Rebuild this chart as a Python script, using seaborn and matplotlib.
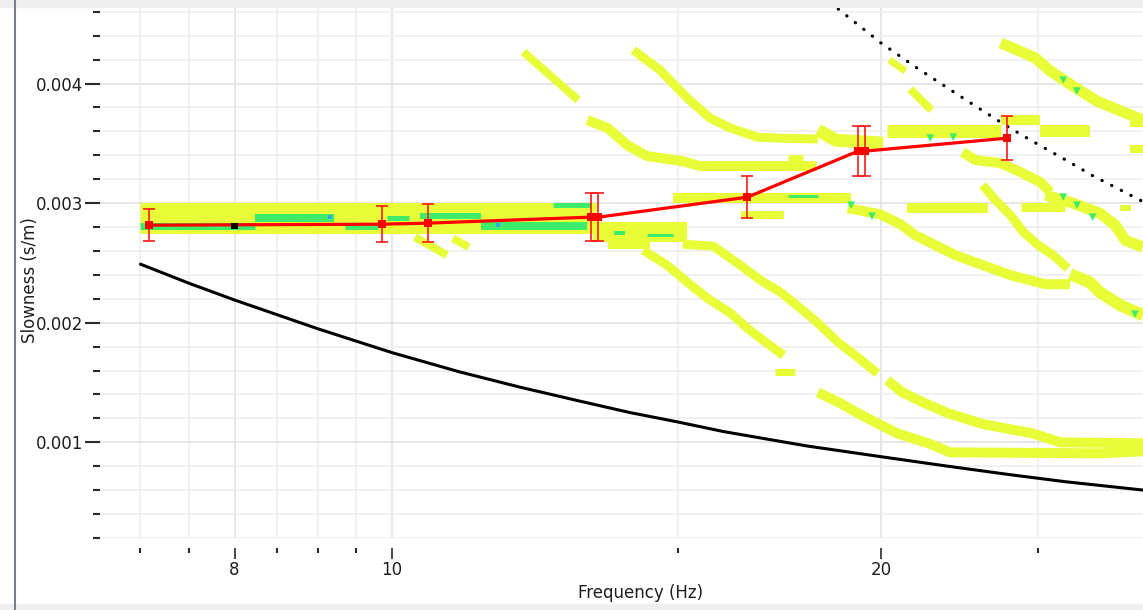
import matplotlib
matplotlib.use("Agg")
import matplotlib.pyplot as plt
import seaborn as sns
from matplotlib.ticker import FixedLocator, FixedFormatter, NullFormatter
from matplotlib.lines import Line2D
from matplotlib.patches import Rectangle

# ------------------------------------------------------------------ data
# picked dispersion curve (frequency Hz, slowness s/m, error)
curve_freq = [7.09, 9.86, 10.52, 13.25, 13.40, 16.55, 19.36, 19.55, 23.93]
curve_slow = [0.002816, 0.002824, 0.002833, 0.002883, 0.002883, 0.00305, 0.003435, 0.003435, 0.003544]
curve_err = [0.000134, 0.00015, 0.00016, 0.0002, 0.0002, 0.000176, 0.00021, 0.00021, 0.000184]

black_pt_freq = [8.0]
black_pt_slow = [0.002808]

# limit curves
limit_low_freq = [7.0, 7.5, 8, 9, 10, 11, 12, 13, 14, 15, 16, 18, 20, 22, 24, 26, 29.5]
limit_low_slow = [0.00249, 0.00233, 0.00219, 0.00195, 0.00175, 0.00159, 0.00146, 0.00135,
                  0.00125, 0.00117, 0.00109, 0.00097, 0.00088, 0.00080, 0.00073, 0.00067, 0.00059]
limit_high_freq = [18.6, 20, 21, 22, 23, 24, 25, 26, 27, 28, 29.5]
limit_high_slow = [0.00468, 0.00434, 0.00414, 0.00396, 0.00379, 0.00363, 0.00349, 0.00336,
                   0.00323, 0.00312, 0.00296]

# yellow energy bands of the dispersion image (ridge nodes)
bandA_f = [7.0, 13.35];   bandA_s = [0.00288, 0.00288]
bandA2_f = [14.9, 19.17]; bandA2_s = [0.003042, 0.003042]
bandA3_f = [13.3, 15.2];  bandA3_s = [0.002757, 0.002757]
bandA3b_f = [13.58, 14.42]; bandA3b_s = [0.002665, 0.002665]
frag1_f = [10.33, 10.81]; frag1_s = [0.002716, 0.002565]
frag2_f = [10.9, 11.15];  frag2_s = [0.002707, 0.002632]
bandB1_f = [12.05, 13.02]; bandB1_s = [0.004264, 0.003862]
bandB2_f = [13.19, 13.58, 13.96, 14.36, 15.1, 15.48, 18.26]
bandB2_s = [0.003695, 0.003628, 0.003485, 0.003393, 0.003351, 0.00331, 0.00331]
bandB3_f = [14.08, 14.62, 15.2, 15.7, 16.16, 16.79, 17.35, 18.29]
bandB3_s = [0.00428, 0.004113, 0.003879, 0.003711, 0.003628, 0.003552, 0.003544, 0.003536]
blob1_f = [17.52, 17.9]; blob1_s = [0.003377, 0.003377]
bandC1_f = [18.29, 18.76, 20.06]; bandC1_s = [0.003611, 0.003527, 0.003502]
bandC2_f = [20.18, 23.7]; bandC2_s = [0.003603, 0.003603]
bandC3_f = [23.7, 25.07]; bandC3_s = [0.003695, 0.003695]
bandC4_f = [25.07, 26.89]; bandC4_s = [0.003603, 0.003603]
bandC5_f = [28.48, 29.0]; bandC5_s = [0.003678, 0.003678]
bandC6_f = [28.48, 29.0]; bandC6_s = [0.003452, 0.003452]
bandE_f = [23.7, 24.28, 24.9, 25.43, 26.26, 27.16, 28.2, 29.0]
bandE_s = [0.004339, 0.00428, 0.004213, 0.004105, 0.003979, 0.003854, 0.003762, 0.003695]
bandF1_f = [20.24, 20.71]; bandF1_s = [0.004197, 0.004105]
bandF2_f = [20.85, 21.48]; bandF2_s = [0.003954, 0.003778]
bandG1_f = [16.39, 17.42]; bandG1_s = [0.0029, 0.0029]
bandG3_f = [19.08, 19.97, 20.56, 21.0, 21.6, 22.23, 23.2, 24.03, 25.25, 26.15]
bandG3_s = [0.002958, 0.002908, 0.002824, 0.002732, 0.002649, 0.002565, 0.002473, 0.002398,
            0.002322, 0.002322]
bandG4_f = [20.76, 23.27]; bandG4_s = [0.002962, 0.002962]
bandG5_f = [23.1, 23.53, 24.03, 24.48, 25.0, 25.53, 26.07]
bandG5_s = [0.003151, 0.003025, 0.0029, 0.002757, 0.002649, 0.002565, 0.002456]
bandG6_f = [24.38, 25.98]; bandG6_s = [0.002967, 0.002967]
bandG7_f = [25.25, 26.26, 27.28, 27.88, 28.28, 29.0]
bandG7_s = [0.003067, 0.003, 0.002916, 0.002816, 0.00269, 0.002632]
bandG8_f = [26.15, 26.89, 27.28, 28.08, 29.0]
bandG8_s = [0.002406, 0.002339, 0.002255, 0.002146, 0.002063]
bandG9_f = [28.08, 28.5]; bandG9_s = [0.002958, 0.002958]
bandH_f = [22.45, 22.87, 23.7, 24.38, 25.07, 25.43]
bandH_s = [0.003427, 0.00336, 0.003335, 0.003259, 0.003176, 0.003092]
bandD0a_f = [14.28, 14.77, 15.2, 15.64, 16.16, 16.55, 17.02, 17.42]
bandD0a_s = [0.002607, 0.002481, 0.002339, 0.002205, 0.00208, 0.001954, 0.001828, 0.001728]
blob2_f = [17.22, 17.7]; blob2_s = [0.00159, 0.00159]
bandD0b_f = [18.29, 18.89, 19.36, 19.9, 20.47, 21.39, 22.06, 27.28, 29.0]
bandD0b_s = [0.001418, 0.001326, 0.001243, 0.001159, 0.001075, 0.000992, 0.000916, 0.000908, 0.000925]
bandD1a_f = [15.1, 15.77, 16.32, 16.86, 17.35, 17.78, 18.24, 18.82, 19.25, 19.66, 19.9]
bandD1a_s = [0.002657, 0.00264, 0.002498, 0.002356, 0.002255, 0.002138, 0.002013, 0.001837,
             0.001736, 0.001636, 0.001577]
bandD1b_f = [20.18, 20.62, 21.22, 22.0, 23.13, 24.8, 25.78, 29.0]
bandD1b_s = [0.001519, 0.001418, 0.001335, 0.001243, 0.001151, 0.001075, 0.001, 0.000992]

# green (higher energy) segments
greenA1_f = [7.0, 8.24];   greenA1_s = [0.002812, 0.002812]
greenA2_f = [8.24, 9.21];  greenA2_s = [0.002874, 0.002874]
greenA3_f = [9.36, 9.80];  greenA3_s = [0.0028, 0.0028]
greenA4_f = [9.93, 10.25]; greenA4_s = [0.002874, 0.002874]
greenA5_f = [10.40, 11.34]; greenA5_s = [0.002891, 0.002891]
greenA6_f = [11.34, 13.19]; greenA6_s = [0.002808, 0.002808]
greenA7_f = [12.57, 13.25]; greenA7_s = [0.002983, 0.002983]
greenA8_f = [13.69, 13.92]; greenA8_s = [0.002749, 0.002749]
greenA9_f = [14.36, 14.9];  greenA9_s = [0.002732, 0.002732]
greenA10_f = [17.52, 18.29]; greenA10_s = [0.003059, 0.003059]
green_spot_f = [19.17, 19.75, 21.45, 22.16, 25.9, 26.4, 25.9, 26.41, 27.0, 28.67]
green_spot_s = [0.002983, 0.002891, 0.003544, 0.003552, 0.004029, 0.003937, 0.00305, 0.002983,
                0.002883, 0.002071]
blue_spot_f = [9.16, 11.62]
blue_spot_s = [0.002883, 0.002816]

# axes ticks
x_major_ticks = [8, 10, 20]
x_major_labels = ["8", "10", "20"]
x_minor_ticks = [7, 7.5, 8.5, 9, 9.5, 15, 25]
y_major_ticks = [0.001, 0.002, 0.003, 0.004]
y_major_labels = ["0.001", "0.002", "0.003", "0.004"]
y_minor_ticks = [0.0002, 0.0004, 0.0006, 0.0008, 0.0012, 0.0014, 0.0016, 0.0018, 0.0022, 0.0024,
                 0.0026, 0.0028, 0.0032, 0.0034, 0.0036, 0.0038, 0.0042, 0.0044, 0.0046]

# ------------------------------------------------------------------ style
sns.set_style("white")
plt.rcParams["font.family"] = ["DejaVu Sans"]
YEL = "#e8fc38"
GRN = "#3ded6a"
BLU = "#3aa6f0"
TXT = "#1e1e1e"
PX = 0.72  # points per pixel at 100 dpi

fig = plt.figure(figsize=(11.43, 6.10), dpi=100)
ax = fig.add_axes([100 / 1143, 72 / 610, 1043 / 1143, 530 / 610])
ax.set_xscale("log")


def band(f, s, px, color=YEL, z=2):
    sns.lineplot(x=f, y=s, ax=ax, color=color, linewidth=px * PX, sort=False,
                 estimator=None, solid_capstyle="butt", solid_joinstyle="round",
                 zorder=z, legend=False)


yellow_bands = [
    (bandA_f, bandA_s, 31), (bandA2_f, bandA2_s, 10), (bandA3_f, bandA3_s, 20),
    (bandA3b_f, bandA3b_s, 12), (frag1_f, frag1_s, 8), (frag2_f, frag2_s, 8),
    (bandB1_f, bandB1_s, 8), (bandB2_f, bandB2_s, 10), (bandB3_f, bandB3_s, 9),
    (blob1_f, blob1_s, 7), (bandC1_f, bandC1_s, 13), (bandC2_f, bandC2_s, 13),
    (bandC3_f, bandC3_s, 10), (bandC4_f, bandC4_s, 12), (bandC5_f, bandC5_s, 10),
    (bandC6_f, bandC6_s, 8), (bandE_f, bandE_s, 11), (bandF1_f, bandF1_s, 7),
    (bandF2_f, bandF2_s, 8), (bandG1_f, bandG1_s, 8), (bandG3_f, bandG3_s, 10),
    (bandG4_f, bandG4_s, 10), (bandG5_f, bandG5_s, 9), (bandG6_f, bandG6_s, 9),
    (bandG7_f, bandG7_s, 11), (bandG8_f, bandG8_s, 12), (bandG9_f, bandG9_s, 6),
    (bandH_f, bandH_s, 10), (bandD0a_f, bandD0a_s, 9), (blob2_f, blob2_s, 7),
    (bandD0b_f, bandD0b_s, 10), (bandD1a_f, bandD1a_s, 9), (bandD1b_f, bandD1b_s, 10),
]
for f, s, px in yellow_bands:
    band(f, s, px)

green_bands = [
    (greenA1_f, greenA1_s, 7), (greenA2_f, greenA2_s, 8), (greenA3_f, greenA3_s, 5),
    (greenA4_f, greenA4_s, 5), (greenA5_f, greenA5_s, 6), (greenA6_f, greenA6_s, 8),
    (greenA7_f, greenA7_s, 5), (greenA8_f, greenA8_s, 4), (greenA9_f, greenA9_s, 3),
    (greenA10_f, greenA10_s, 3),
]
for f, s, px in green_bands:
    band(f, s, px, color=GRN, z=3)

sns.scatterplot(x=green_spot_f, y=green_spot_s, ax=ax, marker="v", s=30, color=GRN,
                edgecolor="none", zorder=3, legend=False)
sns.scatterplot(x=blue_spot_f, y=blue_spot_s, ax=ax, marker="s", s=10, color=BLU,
                edgecolor="none", zorder=4, legend=False)

# limit curves
sns.lineplot(x=limit_low_freq, y=limit_low_slow, ax=ax, color="black", linewidth=2.2,
             sort=False, estimator=None, zorder=5, legend=False)
sns.lineplot(x=limit_high_freq, y=limit_high_slow, ax=ax, color="black", linewidth=2.3,
             sort=False, estimator=None, zorder=5, legend=False,
             linestyle=(0, (0.1, 3.3)), dash_capstyle="round")

# picked curve with error bars
ax.errorbar(curve_freq, curve_slow, yerr=curve_err, fmt="none", ecolor="#ff1a1a",
            elinewidth=1.2, capsize=4.3, capthick=1.2, zorder=6)
sns.lineplot(x=curve_freq, y=curve_slow, ax=ax, color="#ff0000", linewidth=2.3,
             marker="s", markersize=5.5, markeredgewidth=0, sort=False, estimator=None,
             zorder=7, legend=False)
sns.scatterplot(x=black_pt_freq, y=black_pt_slow, ax=ax, marker="s", s=22, color="black",
                edgecolor="none", zorder=8, legend=False)

# ------------------------------------------------------------------ axes
ax.set_xlim(6.61, 29.0)
ax.set_ylim(0.0002, 0.004632)

ax.xaxis.set_major_locator(FixedLocator(x_major_ticks))
ax.xaxis.set_major_formatter(FixedFormatter(x_major_labels))
ax.xaxis.set_minor_locator(FixedLocator(x_minor_ticks))
ax.xaxis.set_minor_formatter(NullFormatter())
ax.yaxis.set_major_locator(FixedLocator(y_major_ticks))
ax.yaxis.set_major_formatter(FixedFormatter(y_major_labels))
ax.yaxis.set_minor_locator(FixedLocator(y_minor_ticks))

for sp in ax.spines.values():
    sp.set_visible(False)
ax.spines["bottom"].set_position(("outward", 7))

ax.set_axisbelow(True)
ax.grid(True, which="major", color="#e0e0e0", linewidth=1.1)
ax.grid(True, which="minor", color="#ededed", linewidth=1.1)

ax.tick_params(axis="y", which="major", direction="out", length=11, width=1.5,
               color="#2a2a2a", pad=1, labelsize=12, labelcolor=TXT, left=True)
ax.tick_params(axis="y", which="minor", direction="out", length=5, width=1.5,
               color="#2a2a2a", left=True)
ax.tick_params(axis="x", which="major", direction="out", length=8, width=1.2,
               color="#2a2a2a", pad=1.5, labelsize=12, labelcolor=TXT, bottom=True)
ax.tick_params(axis="x", which="minor", direction="out", length=3.5, width=1.5,
               color="#2a2a2a", bottom=True)

ax.set_xlabel("Frequency (Hz)", fontsize=12, color=TXT, va="center", ha="center")
ax.xaxis.set_label_coords(0.518, -0.104)
ax.set_ylabel("Slowness (s/m)", fontsize=12, color=TXT, va="center", ha="center")
ax.yaxis.set_label_coords(-0.067, 0.487)

# window frame decorations
fig.add_artist(Rectangle((0, 603 / 610), 1, 7 / 610, transform=fig.transFigure,
                         color="#efefef", zorder=0))
fig.add_artist(Rectangle((0, 0), 1, 6 / 610, transform=fig.transFigure,
                         color="#efefef", zorder=0))
fig.add_artist(Line2D([15 / 1143, 15 / 1143], [0, 1], transform=fig.transFigure,
                      color="#77828e", linewidth=1.5))

fig.savefig("out.png", dpi=100)
